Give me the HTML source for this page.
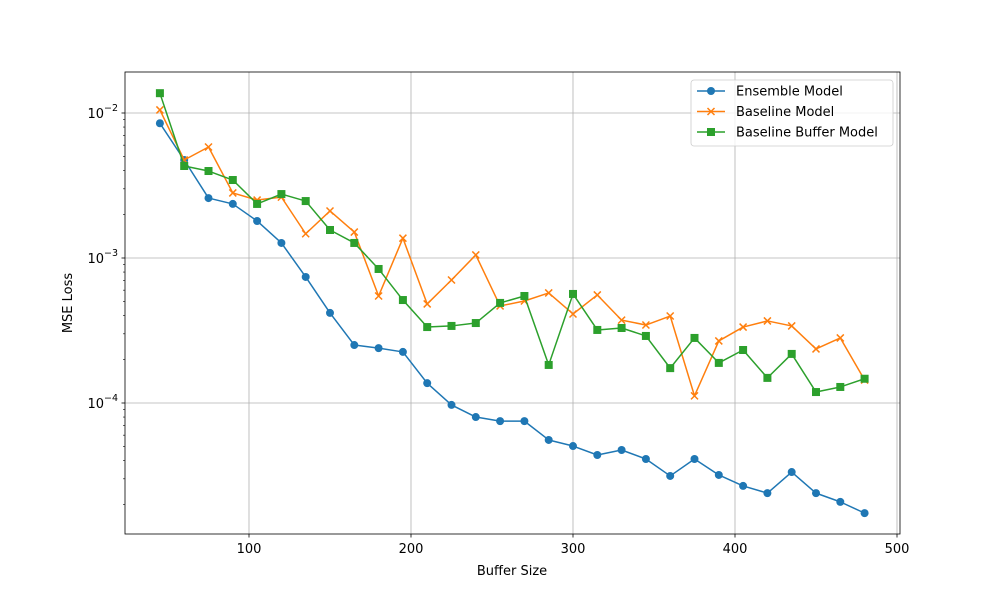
<!DOCTYPE html>
<html><head><meta charset="utf-8"><style>
html,body{margin:0;padding:0;background:#fff;}
svg{display:block;font-family:"DejaVu Sans","Liberation Sans",sans-serif;}
</style></head><body>
<svg id="chart" width="1000" height="600" viewBox="0 0 1000 600"></svg>
<script>
const bufferSizes=[45,60,75,90,105,120,135,150,165,180,195,210,225,240,255,270,285,300,315,330,345,360,375,390,405,420,435,450,465,480];
const ensembleLoss=[8.5e-3,4.74e-3,2.59e-3,2.36e-3,1.80e-3,1.27e-3,7.4e-4,4.18e-4,2.51e-4,2.39e-4,2.25e-4,1.37e-4,9.7e-5,8.0e-5,7.5e-5,7.5e-5,5.56e-5,5.05e-5,4.38e-5,4.74e-5,4.11e-5,3.14e-5,4.11e-5,3.19e-5,2.68e-5,2.39e-5,3.34e-5,2.39e-5,2.08e-5,1.74e-5];
const baselineLoss=[1.05e-2,4.74e-3,5.83e-3,2.81e-3,2.51e-3,2.63e-3,1.47e-3,2.11e-3,1.51e-3,5.47e-4,1.37e-3,4.82e-4,7.05e-4,1.05e-3,4.67e-4,5.05e-4,5.74e-4,4.11e-4,5.56e-4,3.73e-4,3.45e-4,3.98e-4,1.12e-4,2.68e-4,3.34e-4,3.68e-4,3.40e-4,2.36e-4,2.81e-4,1.44e-4];
const bufferLoss=[1.37e-2,4.31e-3,3.98e-3,3.45e-3,2.36e-3,2.76e-3,2.47e-3,1.56e-3,1.27e-3,8.4e-4,5.13e-4,3.34e-4,3.40e-4,3.56e-4,4.9e-4,5.47e-4,1.83e-4,5.65e-4,3.19e-4,3.29e-4,2.90e-4,1.74e-4,2.81e-4,1.89e-4,2.32e-4,1.49e-4,2.18e-4,1.19e-4,1.29e-4,1.47e-4];
const xTicks=[100,200,300,400,500];
const yTickExps=[-4,-3,-2];

const NS="http://www.w3.org/2000/svg";
const svg=document.getElementById('chart');
const L=125,R=900,T=72,B=534;
const X=v=>249+(v-100)*1.62;
const Y=v=>113-(Math.log10(v)+2)*145;
function mk(tag,attrs,parent){const e=document.createElementNS(NS,tag);for(const k in attrs)e.setAttribute(k,attrs[k]);(parent||svg).appendChild(e);return e;}

xTicks.forEach(t=>{const g=mk('line',{x1:X(t),x2:X(t),y1:T,y2:B,stroke:'#b0b0b0','stroke-width':0.8});

});
yTickExps.forEach(e=>{const g=mk('line',{x1:L,x2:R,y1:Y(Math.pow(10,e)),y2:Y(Math.pow(10,e)),stroke:'#b0b0b0','stroke-width':0.8});

});

function series(vals,color,marker,name){
  const g=mk('g',{});
  
  
  const pts=vals.map((v,i)=>X(bufferSizes[i])+','+Y(v)).join(' ');
  mk('polyline',{points:pts,fill:'none',stroke:color,'stroke-width':1.5,'stroke-linejoin':'round'},g);
  vals.forEach((v,i)=>{const x=X(bufferSizes[i]),y=Y(v);let m;
    if(marker==='o')m=mk('circle',{cx:x,cy:y,r:4,fill:color},g);
    else if(marker==='s')m=mk('rect',{x:x-4,y:y-4,width:8,height:8,fill:color},g);
    else m=mk('path',{d:`M${x-3.5},${y-3.5}L${x+3.5},${y+3.5}M${x-3.5},${y+3.5}L${x+3.5},${y-3.5}`,stroke:color,'stroke-width':1.5},g);
    
    
  });
}
series(ensembleLoss,'#1f77b4','o','ensemble-series');
series(baselineLoss,'#ff7f0e','x','baseline-series');
series(bufferLoss,'#2ca02c','s','baseline-buffer-series');

const fr=mk('rect',{x:L,y:T,width:R-L,height:B-T,fill:'none',stroke:'#000','stroke-width':0.8});



xTicks.forEach(t=>{mk('line',{x1:X(t),x2:X(t),y1:B,y2:B+3.5,stroke:'#000','stroke-width':0.8});
const tx=mk('text',{x:X(t),y:B+19,'text-anchor':'middle','font-size':13});tx.textContent=t;

});
yTickExps.forEach(e=>{const y=Y(Math.pow(10,e));mk('line',{x1:L-3.5,x2:L,y1:y,y2:y,stroke:'#000','stroke-width':0.8});
const tx=mk('text',{x:L-7,y:y+5,'text-anchor':'end','font-size':13});
tx.innerHTML='10<tspan dy="-7" font-size="9.5">\u2212'+(-e)+'</tspan>';

});
for(let e=-5;e<=-2;e++)for(let m=2;m<=9;m++){const y=Y(m*Math.pow(10,e));if(y>=T&&y<=B)mk('line',{x1:L-2,x2:L,y1:y,y2:y,stroke:'#000','stroke-width':0.6});}

const xl=mk('text',{x:512,y:575,'text-anchor':'middle','font-size':13});xl.textContent='Buffer Size';


const yl=mk('text',{x:72,y:303,'text-anchor':'middle','font-size':13,transform:'rotate(-90 72 303)'});yl.textContent='MSE Loss';



const lg=mk('g',{});


mk('rect',{x:691,y:80,width:202,height:66,rx:3,fill:'#fff','fill-opacity':0.8,stroke:'#ccc','stroke-width':0.8},lg);
[['Ensemble Model','#1f77b4','o'],['Baseline Model','#ff7f0e','x'],['Baseline Buffer Model','#2ca02c','s']].forEach((d,i)=>{
  const y=91+i*20.5;
  const e=mk('g',{},lg);
  
  
  mk('line',{x1:697,x2:725,y1:y,y2:y,stroke:d[1],'stroke-width':1.5},e);
  if(d[2]==='o')mk('circle',{cx:711,cy:y,r:4,fill:d[1]},e);
  else if(d[2]==='s')mk('rect',{x:707,y:y-4,width:8,height:8,fill:d[1]},e);
  else mk('path',{d:`M707.5,${y-3.5}L714.5,${y+3.5}M707.5,${y+3.5}L714.5,${y-3.5}`,stroke:d[1],'stroke-width':1.5},e);
  const t=mk('text',{x:736,y:y+4.5,'font-size':13},e);t.textContent=d[0];
});
</script>
</body></html>
